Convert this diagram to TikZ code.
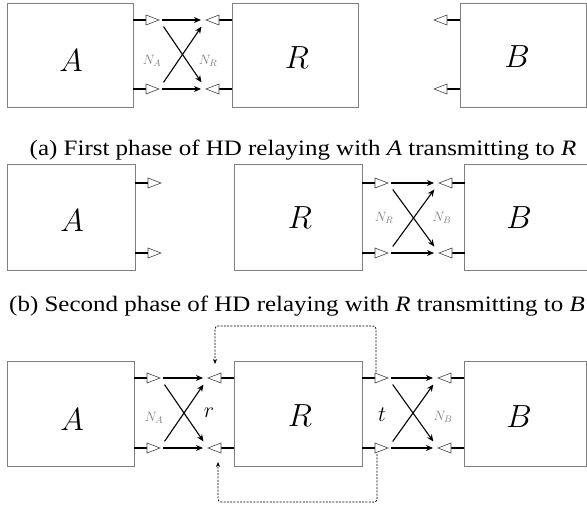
\RequirePackage{fix-cm}
\documentclass[tikz,border=0pt]{standalone}
\usepackage{fontspec}
\newfontfamily\capfont[FakeStretch=1.135]{Liberation Serif}
\usetikzlibrary{arrows.meta,calc}
\definecolor{boxgray}{RGB}{128,128,128}
\definecolor{labgray}{RGB}{125,125,125}
\newcommand{\txant}[3]{% box edge x, y, name (tip) ; points right
  \draw[stub] (#1,#2) -- ++(13,0);
  \draw[tri] (#1+13,#2-5) -- (#1+26,#2) -- (#1+13,#2+5) -- cycle;
  \coordinate (#3) at (#1+26,#2);}
\newcommand{\rxant}[3]{% box edge x, y, name (tip) ; points left
  \draw[stub] (#1,#2) -- ++(-13,0);
  \draw[tri] (#1-13,#2-5) -- (#1-26,#2) -- (#1-13,#2+5) -- cycle;
  \coordinate (#3) at (#1-26,#2);}
\begin{document}
\begin{tikzpicture}[x=1pt,y=-1pt,
  box/.style={draw=boxgray, line width=0.9pt, inner sep=0pt},
  stub/.style={line width=2.4pt, black},
  tri/.style={draw=black!75, line width=0.6pt, fill=white, line join=miter},
  sig/.style={-{Stealth[length=7pt,width=6pt]}, line width=1.1pt},
  hsig/.style={sig, shorten <=3pt, shorten >=5pt},
  dsig/.style={sig, shorten <=8pt, shorten >=8pt},
  fb/.style={dash pattern=on 2pt off 1.3pt, line width=0.7pt, rounded corners=3pt, -{Stealth[length=5pt,width=4pt]}},
  big/.style={font=\fontsize{32}{36}\selectfont, inner sep=0pt},
  mid/.style={font=\fontsize{22}{26}\selectfont, inner sep=0pt},
  nlab/.style={text=labgray, font=\fontsize{13.5}{15}\selectfont, inner sep=0pt},
  captext/.style={font=\capfont\fontsize{22}{26}\selectfont, anchor=base, inner sep=0pt},
]
\useasboundingbox (0,0) rectangle (587,508);
% ---------------- Panel (a)
\node[box, minimum width=126pt, minimum height=104pt] (A1) at (70,55) {};
\node[box, minimum width=126pt, minimum height=104pt] (R1) at (295,55) {};
\node[box, minimum width=126pt, minimum height=104pt] (B1) at (523,55) {};
\node[big] (lA1) at (71,61) {$A$};
\node[big] (lR1) at (297,58) {$R$};
\node[big] (lB1) at (517,57) {$B$};
\txant{133}{20}{a1t} \txant{133}{89}{a1b}
\rxant{232}{20}{r1t} \rxant{232}{89}{r1b}
\rxant{460}{20}{b1t} \rxant{460}{89}{b1b}
\draw[hsig] (a1t) -- (r1t);
\draw[hsig] (a1b) -- (r1b);
\draw[dsig] (a1t) -- (r1b);
\draw[dsig] (a1b) -- (r1t);
\node[nlab] (na1) at (152,61) {$N_A$};
\node[nlab] (nr1) at (208,61) {$N_R$};
\node[captext] (capa) at (303,156) {(a) First phase of HD relaying with \textit{A} transmitting to \textit{R}};
% ---------------- Panel (b)
\node[box, minimum width=128pt, minimum height=106pt] (A2) at (71,217) {};
\node[box, minimum width=128pt, minimum height=106pt] (R2) at (298,217) {};
\node[box, minimum width=124pt, minimum height=106pt] (B2) at (526,217) {};
\node[big] (lA2) at (72,221) {$A$};
\node[big] (lR2) at (300,218) {$R$};
\node[big] (lB2) at (519,218) {$B$};
\txant{135}{183}{a2t} \txant{135}{253}{a2b}
\txant{362}{183}{r2t} \txant{362}{253}{r2b}
\rxant{465}{183}{b2t} \rxant{465}{253}{b2b}
\draw[hsig] (r2t) -- (b2t);
\draw[hsig] (r2b) -- (b2b);
\draw[dsig] (r2t) -- (b2b);
\draw[dsig] (r2b) -- (b2t);
\node[nlab] (nr2) at (384,218) {$N_R$};
\node[nlab] (nb2) at (442,218) {$N_B$};
\node[captext] (capb) at (297,311) {(b) Second phase of HD relaying with \textit{R} transmitting to \textit{B}};
% ---------------- Panel (c)
\node[box, minimum width=127pt, minimum height=105pt] (A3) at (70.5,413.5) {};
\node[box, minimum width=128pt, minimum height=105pt] (R3) at (298,413.5) {};
\node[box, minimum width=122pt, minimum height=105pt] (B3) at (525,413.5) {};
\node[big] (lA3) at (72,420) {$A$};
\node[big] (lR3) at (300,416) {$R$};
\node[big] (lB3) at (519,417) {$B$};
\txant{134}{378}{a3t} \txant{134}{448}{a3b}
\rxant{234}{378}{r3lt} \rxant{234}{448}{r3lb}
\txant{362}{378}{r3rt} \txant{362}{448}{r3rb}
\rxant{464}{378}{b3t} \rxant{464}{448}{b3b}
\draw[hsig] (a3t) -- (r3lt);
\draw[hsig] (a3b) -- (r3lb);
\draw[dsig] (a3t) -- (r3lb);
\draw[dsig] (a3b) -- (r3lt);
\draw[hsig] (r3rt) -- (b3t);
\draw[hsig] (r3rb) -- (b3b);
\draw[dsig] (r3rt) -- (b3b);
\draw[dsig] (r3rb) -- (b3t);
\node[nlab] (na3) at (154,418) {$N_A$};
\node[mid] (lr3) at (209,413) {$r$};
\node[mid] (lt3) at (382,415) {$t$};
\node[nlab] (nb3) at (443,417) {$N_B$};
\coordinate (fbts) at ($(r3rt)+(-12,-6)$);
\coordinate (fbte) at ($(r3lt)+(7,-14)$);
\coordinate (fbbs) at ($(r3rb)+(-11,6)$);
\coordinate (fbbe) at ($(r3lb)+(10,14)$);
\draw[fb] (fbts) -- (fbts |- 0,326) -- (fbte |- 0,326) -- (fbte);
\draw[fb] (fbbs) -- (fbbs |- 0,502) -- (fbbe |- 0,502) -- (fbbe);
\end{tikzpicture}
\end{document}
